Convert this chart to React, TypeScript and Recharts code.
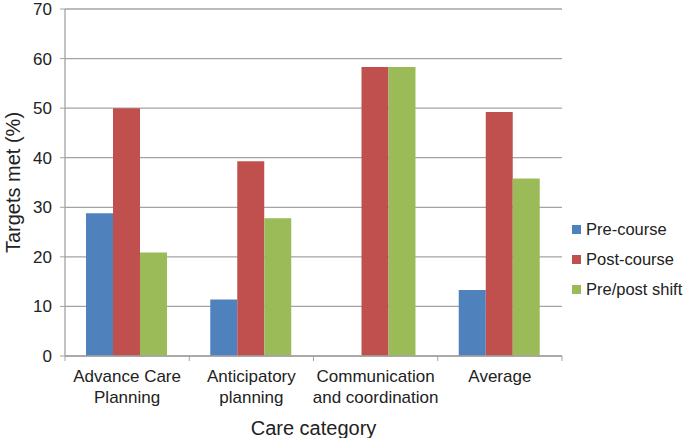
import React from "react";
import { BarChart, Bar, XAxis, YAxis, CartesianGrid } from "recharts";

// categories (line breaks as drawn under the axis)
const categories = [
  "Advance Care\nPlanning",
  "Anticipatory\nplanning",
  "Communication\nand coordination",
  "Average",
];
const preCourse = [28.8, 11.4, 0, 13.3];
const postCourse = [50, 39.3, 58.3, 49.2];
const prePostShift = [20.9, 27.8, 58.3, 35.8];
const yTicks = [0, 10, 20, 30, 40, 50, 60, 70];
const seriesNames = ["Pre-course", "Post-course", "Pre/post shift"];

const BLUE = "#4F81BD";
const RED = "#C0504D";
const GREEN = "#9BBB59";
const GRID = "#a3a3a3";
const FONT = "'Liberation Sans', Arial, sans-serif";

const data = categories.map((c, i) => ({
  cat: c,
  pre: preCourse[i],
  post: postCourse[i],
  shift: prePostShift[i],
}));

function CatTick(props: any) {
  const { x, y, payload, index } = props;
  const half = payload?.offset ?? 62;
  const lines = String(payload.value).split("\n");
  return (
    <g>
      <line x1={x - half} x2={x - half} y1={y - 8} y2={y - 3} stroke={GRID} />
      {index === categories.length - 1 && (
        <line x1={x + half} x2={x + half} y1={y - 8} y2={y - 3} stroke={GRID} />
      )}
      <text x={x} y={y} textAnchor="middle" fill="#222" fontSize={17} fontFamily={FONT}>
        {lines.map((l, i) => (
          <tspan key={i} x={x} dy={i === 0 ? 18 : 21}>
            {l}
          </tspan>
        ))}
      </text>
    </g>
  );
}

function YLabel(props: any) {
  const vb = props.viewBox || { y: 9, height: 347 };
  const cy = vb.y + vb.height / 2;
  const cx = 13;
  return (
    <text
      x={cx}
      y={cy}
      transform={`rotate(-90, ${cx}, ${cy})`}
      textAnchor="middle"
      dominantBaseline="central"
      fontSize={20}
      fill="#222"
      fontFamily={FONT}
    >
      Targets met (%)
    </text>
  );
}

function LegendBox() {
  const colors = [BLUE, RED, GREEN];
  return (
    <div
      style={{
        position: "absolute",
        left: 572,
        top: 214,
        fontFamily: FONT,
        fontSize: 16.5,
        color: "#222",
      }}
    >
      {seriesNames.map((n, i) => (
        <div key={n} style={{ display: "flex", alignItems: "center", height: 30 }}>
          <span
            style={{
              display: "inline-block",
              width: 9,
              height: 9,
              background: colors[i],
              marginRight: 5,
            }}
          />
          <span>{n}</span>
        </div>
      ))}
    </div>
  );
}

export default function App() {
  return (
    <div style={{ position: "relative", width: 685, height: 438, background: "#fff" }}>
      <style>{"body{margin:0}"}</style>
      <BarChart
        width={685}
        height={438}
        data={data}
        margin={{ top: 9, right: 123, bottom: 0, left: 0 }}
        barGap={0}
        barCategoryGap={21}
      >
        <CartesianGrid vertical={false} stroke={GRID} strokeWidth={1.3} />
        <XAxis
          dataKey="cat"
          height={82}
          axisLine={{ stroke: GRID, strokeWidth: 1.3 }}
          tickLine={false}
          interval={0}
          tick={<CatTick />}
          label={{
            value: "Care category",
            position: "insideBottom",
            offset: 3,
            fontSize: 20,
            fill: "#222",
            fontFamily: FONT,
          }}
        />
        <YAxis
          width={65}
          domain={[0, 70]}
          ticks={yTicks}
          interval={0}
          tickSize={5}
          tickMargin={8}
          axisLine={{ stroke: GRID, strokeWidth: 1.3 }}
          tickLine={{ stroke: GRID }}
          tick={{ fontSize: 17, fill: "#222", fontFamily: FONT }}
          label={<YLabel />}
        />
        <Bar dataKey="pre" name={seriesNames[0]} fill={BLUE} isAnimationActive={false} />
        <Bar dataKey="post" name={seriesNames[1]} fill={RED} isAnimationActive={false} />
        <Bar dataKey="shift" name={seriesNames[2]} fill={GREEN} isAnimationActive={false} />
      </BarChart>
      <LegendBox />
    </div>
  );
}
